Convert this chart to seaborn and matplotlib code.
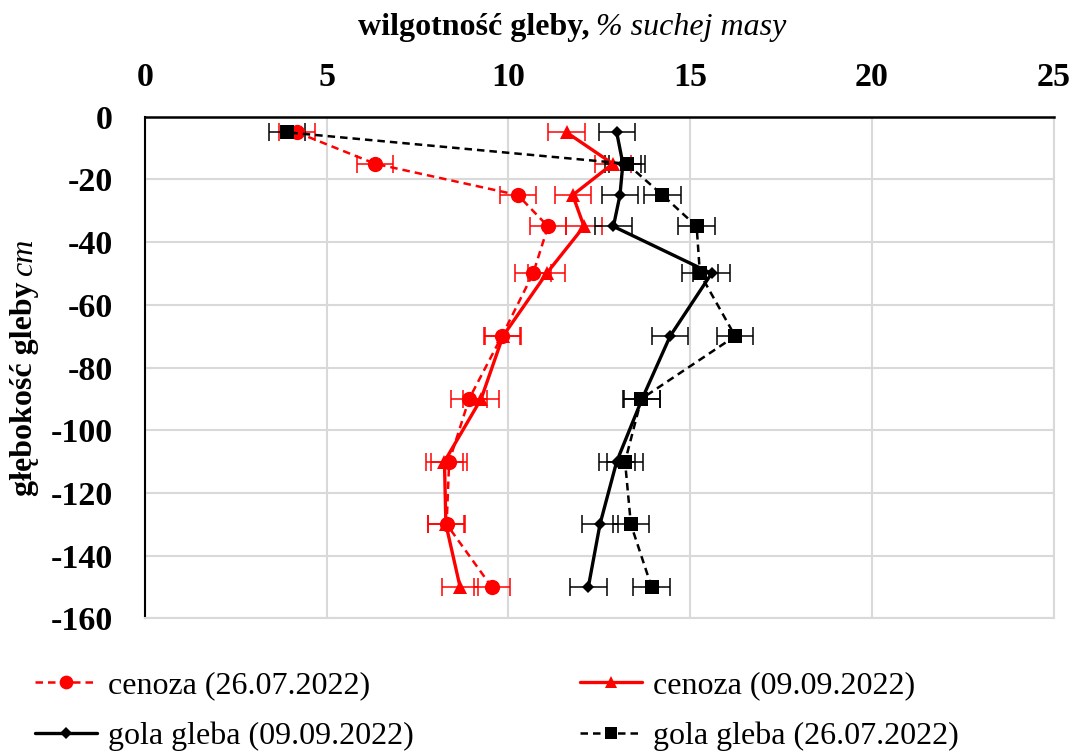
import matplotlib
matplotlib.use("Agg")
import matplotlib.pyplot as plt
import seaborn as sns
import pandas as pd
import numpy as np

# ---- data ----
depth = [-5, -15, -25, -35, -50, -70, -90, -110, -130, -150]
cenoza_2607 = [4.18, 6.33, 10.26, 11.09, 10.68, 9.82, 8.92, 8.37, 8.30, 9.54]
cenoza_0909 = [11.60, 12.87, 11.77, 12.08, 11.05, 9.85, 9.25, 8.24, 8.28, 8.67]
gola_0909 = [12.98, 13.15, 13.07, 12.89, 15.59, 14.45, 13.68, 12.98, 12.52, 12.20]
gola_2607 = [3.91, 13.26, 14.24, 15.18, 15.27, 16.24, 13.66, 13.21, 13.37, 13.94]
err_cenoza_2607 = [0.5] * 10
err_cenoza_0909 = [0.5] * 10
err_gola_0909 = [0.5] * 10
err_gola_2607 = [0.5] * 10
labels = ["cenoza (26.07.2022)", "cenoza (09.09.2022)",
          "gola gleba (09.09.2022)", "gola gleba (26.07.2022)"]
x_ticks = [0, 5, 10, 15, 20, 25]
y_ticks = [0, -20, -40, -60, -80, -100, -120, -140, -160]
x_title_bold = "wilgotność gleby,"
x_title_it = "% suchej masy"
y_title_bold = "głębokość gleby"
y_title_it = "cm"

sns.set_style("white")
plt.rcParams["font.family"] = ["Liberation Serif", "DejaVu Serif"]
plt.rcParams["axes.unicode_minus"] = False
for k in ["text.color", "axes.labelcolor", "xtick.color", "ytick.color",
          "xtick.labelcolor", "ytick.labelcolor"]:
    plt.rcParams[k] = "black"

W, H = 1077, 751
fig = plt.figure(figsize=(W / 100, H / 100), dpi=100)
ax = fig.add_axes([145 / W, 1 - 618.3 / H, (1053.5 - 145) / W, (618.3 - 116.7) / H])

RED = "#FF0000"
DASH = (0, (3, 2))
styles = [
    dict(values=cenoza_2607, err=err_cenoza_2607, color=RED, ls=DASH, lw=1.8, marker="o", ms=11),
    dict(values=cenoza_0909, err=err_cenoza_0909, color=RED, ls="-", lw=2.4, marker="^", ms=10),
    dict(values=gola_0909, err=err_gola_0909, color="black", ls="-", lw=2.4, marker="D", ms=6.5),
    dict(values=gola_2607, err=err_gola_2607, color="black", ls=DASH, lw=1.8, marker="s", ms=9.5),
]

handles = []
for lab, st in zip(labels, styles):
    df = pd.DataFrame({"x": st["values"], "y": depth})
    ax.errorbar(st["values"], depth, xerr=st["err"], fmt="none", ecolor=st["color"],
                elinewidth=1.1, capsize=6.5, capthick=1.1, zorder=2)
    sns.lineplot(data=df, x="x", y="y", orient="y", estimator=None, ax=ax,
                 color=st["color"], linestyle=st["ls"], linewidth=st["lw"],
                 marker=st["marker"], markersize=st["ms"], markeredgewidth=0,
                 label=lab, zorder=3, legend=False)
    handles.append(ax.lines[-1])

ax.set_xlim(0, 25)
ax.set_ylim(-160, 0)
ax.set_xticks(x_ticks)
ax.set_yticks(y_ticks)
ax.set_xticklabels([str(v) for v in x_ticks])
ax.set_yticklabels([str(v) for v in y_ticks])
ax.xaxis.tick_top()
ax.tick_params(axis="both", length=0, labelsize=24.5, labelcolor="black")
ax.tick_params(axis="x", pad=17)
ax.tick_params(axis="y", pad=23)
for lbl in ax.get_xticklabels() + ax.get_yticklabels():
    lbl.set_fontweight("bold")
ax.set_xlabel("")
ax.set_ylabel("")
ax.grid(True, color="#D9D9D9", linewidth=1.5, zorder=0)
ax.set_axisbelow(True)
ax.spines["top"].set_color("black")
ax.spines["top"].set_linewidth(1.8)
ax.spines["left"].set_color("black")
ax.spines["left"].set_linewidth(1.5)
for s in ["right", "bottom"]:
    ax.spines[s].set_color("#D9D9D9")
    ax.spines[s].set_linewidth(1.5)

TFS = 23
# x title (bold + italic)
t1 = fig.text(339 / W, 1 - 34.5 / H, x_title_bold, fontsize=TFS, fontweight="bold",
              ha="left", va="baseline", color="black")
t1b = ax.annotate(x_title_it, xy=(1, 0), xycoords=t1, xytext=(5, 0), textcoords="offset points",
                  fontsize=TFS, style="italic", ha="left", va="bottom", annotation_clip=False,
                  color="black")

# y title (bold + italic), rotated
t2 = fig.text(25 / W, 1 - 510 / H, y_title_bold, fontsize=TFS, fontweight="bold",
              rotation=90, ha="center", va="bottom", color="black")
t2b = ax.annotate(y_title_it, xy=(0.5, 1), xycoords=t2, xytext=(0, 4), textcoords="offset points",
                  fontsize=TFS, style="italic", rotation=90, ha="center", va="bottom",
                  annotation_clip=False, color="black")

# center the composite titles like in the reference
fig.canvas.draw()
r = fig.canvas.get_renderer()
b1 = t1.get_window_extent(r); b1b = t1b.get_window_extent(r)
total_w = b1b.x1 - b1.x0
t1.set_x((572 - total_w / 2) / W)
b2 = t2.get_window_extent(r); b2b = t2b.get_window_extent(r)
total_h = b2b.y1 - b2.y0
center_y = H - 367
t2.set_y((center_y - total_h / 2) / H)

leg_kw = dict(loc="upper left", frameon=False, fontsize=TFS, handlelength=1.95,
              handletextpad=0.32, labelspacing=0.67, borderpad=0, borderaxespad=0,
              numpoints=1, markerscale=0.9, labelcolor="black")
leg1 = fig.legend([handles[0], handles[2]], [labels[0], labels[2]],
                  bbox_to_anchor=(35 / W, 1 - 671 / H), **leg_kw)
leg2 = fig.legend([handles[1], handles[3]], [labels[1], labels[3]],
                  bbox_to_anchor=(580 / W, 1 - 671 / H), **leg_kw)

fig.savefig("out.png", dpi=100)
